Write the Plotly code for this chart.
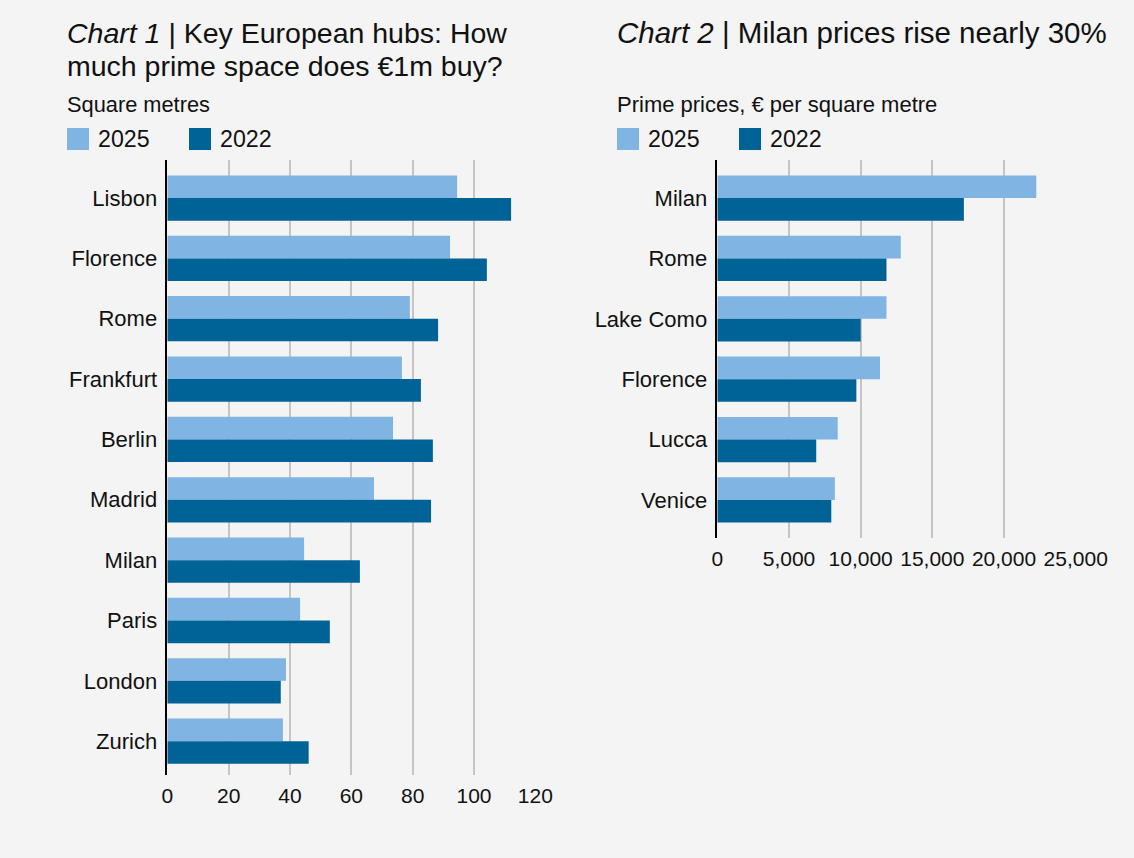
import plotly.graph_objects as go

W, H = 1134, 858

years = ["2025", "2022"]
bar_colors = ["#80b4e2", "#006398"]

# Chart 1: square metres for EUR 1m
cities_hubs = ["Lisbon", "Florence", "Rome", "Frankfurt", "Berlin",
               "Madrid", "Milan", "Paris", "London", "Zurich"]
sqm_2025 = [94.5, 92.2, 79.1, 76.5, 73.6, 67.4, 44.6, 43.3, 38.7, 37.7]
sqm_2022 = [112.1, 104.2, 88.3, 82.7, 86.6, 86.0, 62.8, 53.0, 37.0, 46.1]
ticks_hubs = [0, 20, 40, 60, 80, 100, 120]

# Chart 2: prime prices, EUR per square metre
cities_italy = ["Milan", "Rome", "Lake Como", "Florence", "Lucca", "Venice"]
price_2025 = [22250, 12800, 11800, 11350, 8400, 8200]
price_2022 = [17200, 11800, 10000, 9700, 6900, 7950]
ticks_italy = [0, 5000, 10000, 15000, 20000, 25000]

bg = "#f3f4f3"
txt = "#111111"
grid = "#c9c4c4"
font = "Liberation Sans, Arial, sans-serif"


def px(x):
    return x / W


def py(y):
    return 1 - y / H


fig = go.Figure()
for name, vals, col in zip(years, [sqm_2025, sqm_2022], bar_colors):
    fig.add_trace(go.Bar(y=cities_hubs, x=vals, orientation="h", name=name,
                         marker=dict(color=col, line_width=0),
                         xaxis="x", yaxis="y", showlegend=False))
for name, vals, col in zip(years, [price_2025, price_2022], bar_colors):
    fig.add_trace(go.Bar(y=cities_italy, x=vals, orientation="h", name=name,
                         marker=dict(color=col, line_width=0),
                         xaxis="x2", yaxis="y2", showlegend=False))

xax = dict(showgrid=True, gridcolor=grid, gridwidth=1.5, zeroline=False,
           showline=False, ticks="", tickfont=dict(size=21, color=txt),
           ticklabelstandoff=6, automargin=False, fixedrange=True)
yax = dict(showgrid=False, zeroline=False, showline=True, linecolor="#000000",
           linewidth=1.5, ticks="", tickfont=dict(size=22, color=txt),
           ticklabelstandoff=4, automargin=False, type="category")

fig.update_layout(
    width=W, height=H,
    margin=dict(l=0, r=0, t=0, b=0),
    paper_bgcolor=bg, plot_bgcolor=bg,
    font=dict(family=font, color=txt),
    barmode="group", bargap=0.25, bargroupgap=0,
    xaxis=dict(xax, domain=[px(167.3), px(535.3)], range=[0, 120],
               tickvals=ticks_hubs, anchor="y"),
    yaxis=dict(yax, domain=[py(775), py(160)], range=[9.56, -0.63], anchor="x"),
    xaxis2=dict(xax, domain=[px(717.3), px(1075.7)], range=[0, 25000],
                tickvals=ticks_italy, tickformat=",", anchor="y2"),
    yaxis2=dict(yax, domain=[py(538), py(160)], range=[5.63, -0.63], anchor="x2"),
)

annos = [
    (65, 33, "<i>Chart 1</i> | Key European hubs: How", 28.5),
    (65, 66.5, "much prime space does €1m buy?", 28.5),
    (615, 33, "<i>Chart 2</i> | Milan prices rise nearly 30%", 29.5),
    (65, 104, "Square metres", 21.8),
    (615, 104, "Prime prices, € per square metre", 22),
]
for x, y, t, s in annos:
    fig.add_annotation(x=px(x), y=py(y), xref="paper", yref="paper",
                       xanchor="left", yanchor="middle", showarrow=False,
                       text=t, font=dict(size=s, color=txt))

# legend keys drawn by hand so the squares match the original size
for x0 in [67, 617]:
    offs = [0, 122]
    for k, (name, col) in enumerate(zip(years, bar_colors)):
        sx = x0 + offs[k]
        fig.add_shape(type="rect", xref="paper", yref="paper",
                      x0=px(sx), x1=px(sx + 22), y0=py(150), y1=py(128),
                      fillcolor=col, line_width=0)
        fig.add_annotation(x=px(sx + 29), y=py(139), xref="paper", yref="paper",
                           xanchor="left", yanchor="middle", showarrow=False,
                           text=name, font=dict(size=23.2, color=txt))

fig.write_html("out.html", config={"displayModeBar": False},
               post_script="document.body.style.margin='0';document.body.style.background='%s';" % bg)
